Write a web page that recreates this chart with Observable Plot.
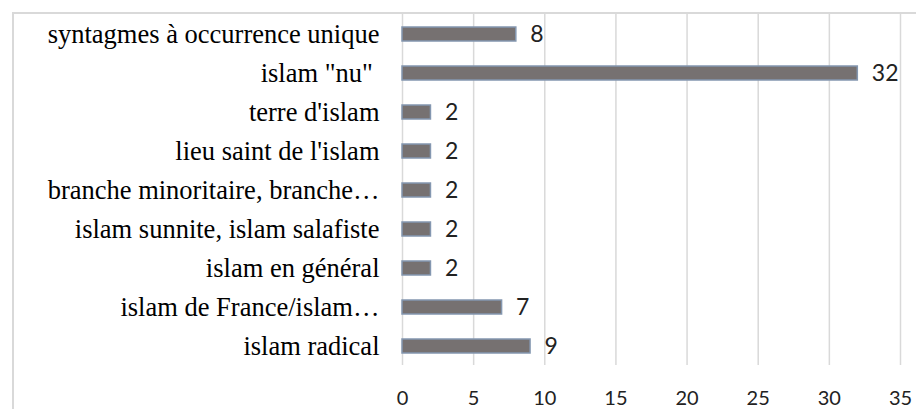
<!DOCTYPE html>
<html>
<head>
<meta charset="utf-8">
<script src="https://cdn.jsdelivr.net/npm/d3@7"></script>
<script src="https://cdn.jsdelivr.net/npm/@observablehq/plot@0.6"></script>
<style>
  html, body { margin: 0; padding: 0; background: #fff; overflow: hidden; }
  #wrap { position: relative; width: 916px; height: 409px; }
  #frame { position: absolute; left: 12px; top: 12px; width: 1000px; height: 500px;
           border-left: 2px solid #d9d9d9; border-top: 2px solid #d9d9d9; box-sizing: border-box; }
  #chart { position: absolute; left: 0; top: 0; }
</style>
</head>
<body>
<div id="wrap"><div id="frame"></div><div id="chart"></div></div>
<script>
const categories = [
  "syntagmes à occurrence unique",
  "islam \"nu\" ",
  "terre d'islam",
  "lieu saint de l'islam",
  "branche minoritaire, branche…",
  "islam sunnite, islam salafiste",
  "islam en général",
  "islam de France/islam…",
  "islam radical"
];
const values = [8, 32, 2, 2, 2, 2, 2, 7, 9];
const xTicks = [0, 5, 10, 15, 20, 25, 30, 35];

const data = categories.map((c, i) => ({category: c, value: values[i]}));

const chart = Plot.plot({
  width: 916,
  height: 409,
  marginTop: 14,
  marginBottom: 44,
  marginLeft: 402,
  marginRight: 16,
  style: {background: "transparent", overflow: "visible"},
  x: {domain: [0, 35], ticks: xTicks},
  y: {domain: categories, paddingInner: 0.65, paddingOuter: 0.325},
  marks: [
    Plot.ruleX(xTicks, {stroke: "#d9d9d9", strokeWidth: 1.5}),
    Plot.barX(data, {x: "value", y: "category", fill: "#767171", stroke: "#8497b0", strokeWidth: 1.5}),
    Plot.text(data, {x: "value", y: "category", text: d => String(d.value), textAnchor: "start", dx: 14,
      fontFamily: "Lato", fontSize: 23, fill: "#222"}),
    Plot.axisX({ticks: xTicks, tickSize: 0, tickPadding: 25, fontFamily: "Lato", fontSize: 20, fill: "#222", label: null}),
    Plot.axisY({tickSize: 0, tickPadding: 23, fontFamily: "'Liberation Serif', 'Times New Roman', serif", fontSize: 26.5, fill: "#000", label: null})
  ]
});
document.getElementById("chart").appendChild(chart);
</script>
</body>
</html>
